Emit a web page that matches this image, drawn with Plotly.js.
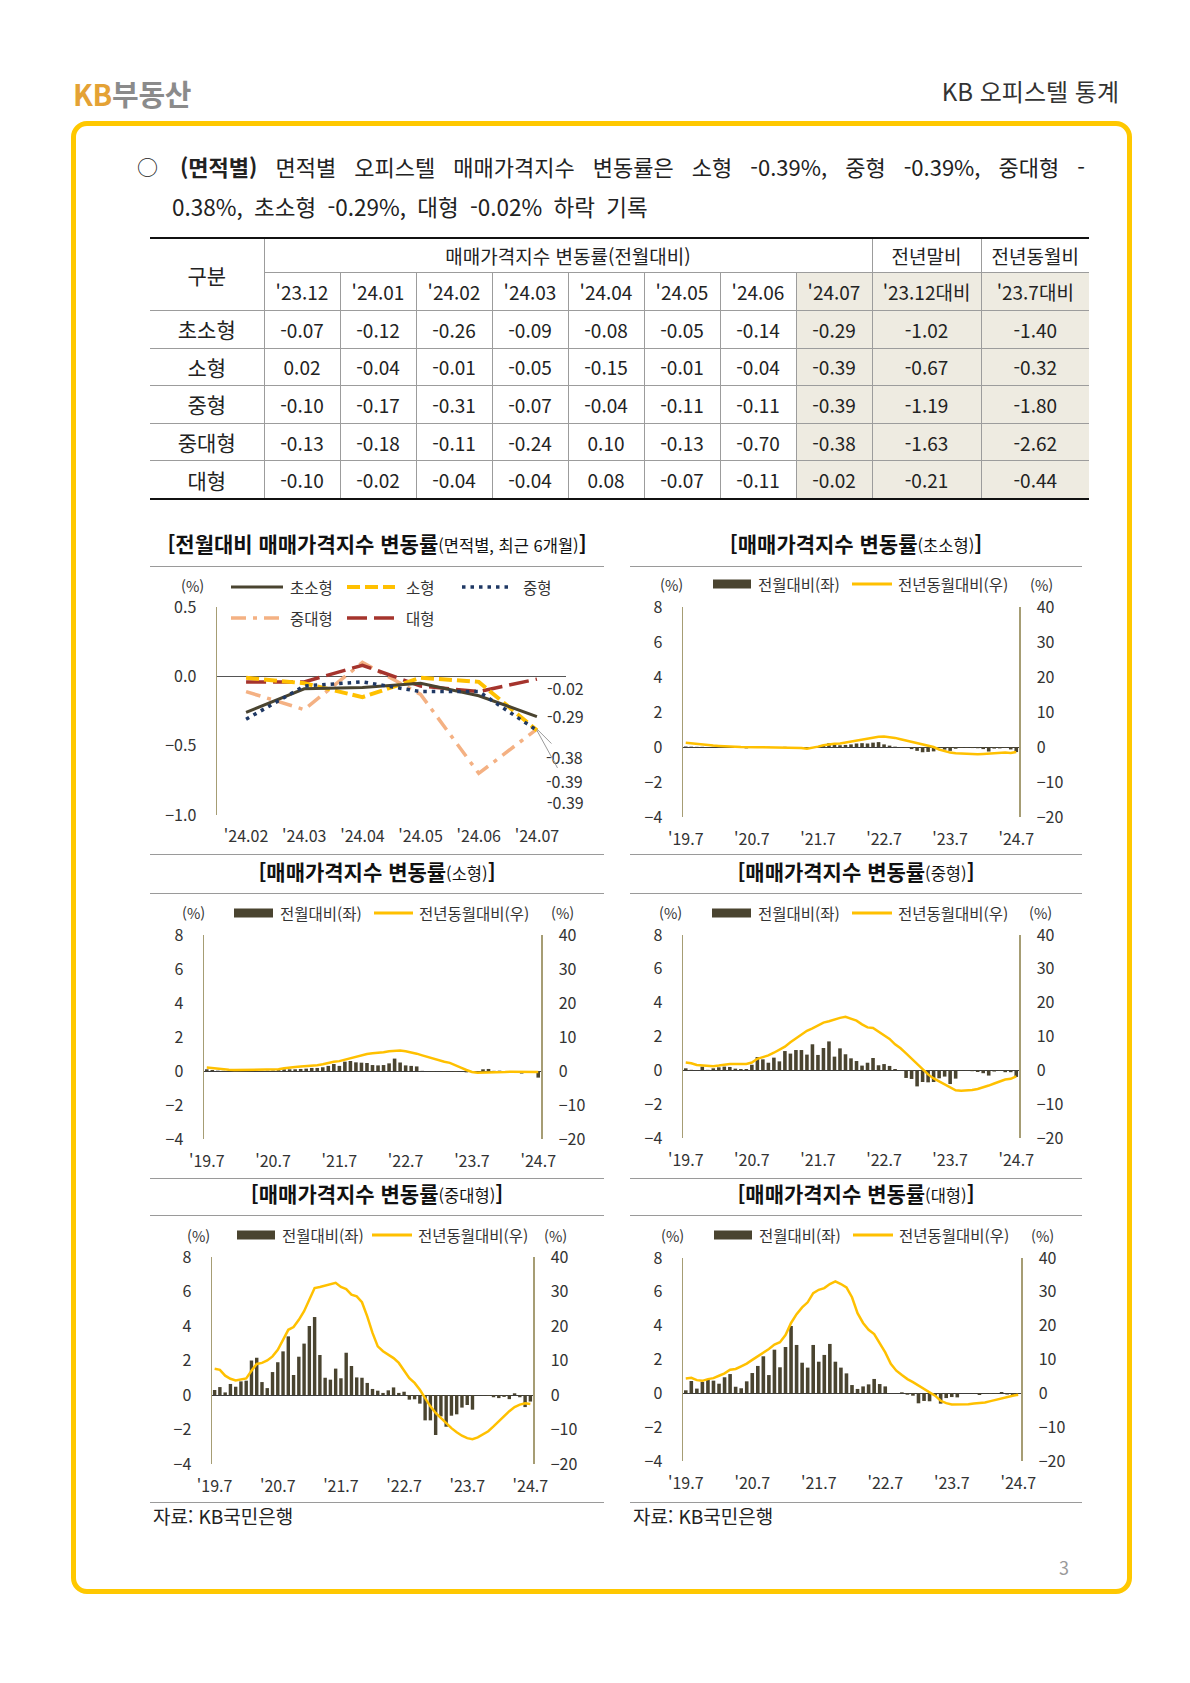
<!DOCTYPE html>
<html lang="ko">
<head>
<meta charset="utf-8">
<script src="https://cdn.plot.ly/plotly-3.0.1.min.js"></script>
<style>
html,body{margin:0;padding:0;background:#fff;}
#page{position:relative;width:1190px;height:1683px;overflow:hidden;background:#fff;font-family:"Noto Sans CJK KR","Noto Sans",sans-serif;color:#222;}
.abs{position:absolute;}
#logo{left:73px;top:73px;font-size:29px;font-weight:700;line-height:40px;letter-spacing:-0.3px;}
#logo .kb{color:#E4A235;}
#logo .re{color:#8B8B8B;}
#hdr{right:71px;top:73px;font-size:24px;line-height:36px;color:#333;}
#frame{left:71px;top:121px;width:1061px;height:1473px;border:5px solid #FFC800;border-radius:16px;box-sizing:border-box;}
#bul{left:137px;top:149px;font-size:21px;line-height:34px;}
#p1{left:180px;top:149px;width:905px;font-size:22px;line-height:34px;text-align:justify;text-align-last:justify;}
#p2{left:172px;top:189px;font-size:22.5px;line-height:34px;word-spacing:5px;}
#tbl{position:absolute;left:150px;top:237px;width:939px;border-collapse:collapse;table-layout:fixed;font-size:19px;color:#222;}
#tbl td{border:1px solid #9c9c9c;text-align:center;vertical-align:middle;padding:0;white-space:nowrap;}
#tbl tr.h1 td{border-top:2.5px solid #111;height:33px;}
#tbl tr.h2 td{height:37px;}
#tbl tr.d td{height:36.6px;}
#tbl tr.last td{border-bottom:2.5px solid #111;}
#tbl td.c0{border-left:none;font-size:21px;}
#tbl td.cl{border-right:none;}
#tbl td.sh{background:#EEEBE1;}
.rule{position:absolute;height:1px;background:#9a9a9a;}
.src{position:absolute;font-size:19px;line-height:26px;color:#222;}
#pg{left:1059px;top:1554px;font-size:18px;color:#9a9a9a;}
.chart{position:absolute;}
</style>
</head>
<body>
<div id="page">
  <div id="logo" class="abs"><span class="kb">KB</span><span class="re">부동산</span></div>
  <div id="hdr" class="abs">KB 오피스텔 통계</div>
  <div id="frame" class="abs"></div>
  <div id="bul" class="abs">○</div>
  <div id="p1" class="abs"><b>(면적별)</b> 면적별 오피스텔 매매가격지수 변동률은 소형 -0.39%, 중형 -0.39%, 중대형 -</div>
  <div id="p2" class="abs">0.38%, 초소형 -0.29%, 대형 -0.02% 하락 기록</div>
  <table id="tbl"></table>
  <div class="src" style="left:153px;top:1503px;">자료: KB국민은행</div>
  <div class="src" style="left:633px;top:1503px;">자료: KB국민은행</div>
  <div id="pg" class="abs">3</div>
</div>
<script>
// ================= DATA =================
const sizeNames = ['초소형', '소형', '중형', '중대형', '대형'];
const tableMonths = ["'23.12", "'24.01", "'24.02", "'24.03", "'24.04", "'24.05", "'24.06", "'24.07"];
const extraHeads = ["'23.12대비", "'23.7대비"];
// month-on-month change (%), '23.12 .. '24.07
const mom_xs = [-0.07, -0.12, -0.26, -0.09, -0.08, -0.05, -0.14, -0.29];
const mom_s  = [0.02, -0.04, -0.01, -0.05, -0.15, -0.01, -0.04, -0.39];
const mom_m  = [-0.10, -0.17, -0.31, -0.07, -0.04, -0.11, -0.11, -0.39];
const mom_ml = [-0.13, -0.18, -0.11, -0.24, 0.10, -0.13, -0.70, -0.38];
const mom_l  = [-0.10, -0.02, -0.04, -0.04, 0.08, -0.07, -0.11, -0.02];
const vsYearEnd  = [-1.02, -0.67, -1.19, -1.63, -0.21];
const vsLastYear = [-1.40, -0.32, -1.80, -2.62, -0.44];

// recent 6 months line chart labels
const recentLabels = ["'24.02", "'24.03", "'24.04", "'24.05", "'24.06", "'24.07"];

// long series axis ticks
const xTickVals = ['2019.07', '2020.07', '2021.07', '2022.07', '2023.07', '2024.07'];
const xTickText = ["'19.7", "'20.7", "'21.7", "'22.7", "'23.7", "'24.7"];

// month-on-month history '19.7 .. '23.11
const momHist_xs = [0.03,0.02,0.01,0.01,0.00,0.01,0.00,-0.01,-0.02,-0.02, -0.03,-0.08,-0.02,0.00,0.01,0.01,0.00,0.00,0.01,0.00, -0.01,-0.03,-0.06,-0.04,0.05,0.12,0.22,0.15,0.10,0.12, 0.15,0.20,0.22,0.20,0.25,0.28,0.15,0.08,0.02,-0.02, -0.05,-0.12,-0.22,-0.30,-0.28,-0.25,-0.05,-0.15,-0.22,-0.10, -0.05,-0.05,-0.06];
const momHist_s  = [0.10,0.06,0.02,0.01,0.01,0.01,0.01,0.01,0.01,0.01, 0.01,0.02,0.03,0.05,0.10,0.10,0.10,0.12,0.14,0.18, 0.18,0.22,0.30,0.41,0.30,0.55,0.59,0.51,0.49,0.47, 0.35,0.33,0.35,0.45,0.73,0.50,0.33,0.30,0.27,0.01, -0.01,-0.03,-0.01,-0.05,-0.02,-0.05,-0.01,-0.08,-0.05,-0.02, 0.10,0.12,0.01];
const momHist_m  = [0.12,0.03,0.02,0.22,0.03,0.12,0.18,0.22,0.20,0.10, 0.08,0.08,0.33,0.79,0.65,0.45,0.75,0.53,1.14,0.99, 1.20,1.20,0.93,1.54,0.91,1.32,1.71,0.81,1.30,0.95, 0.71,0.55,0.28,0.45,0.73,0.30,0.37,0.26,0.08,0.01, -0.45,-0.51,-0.95,-0.69,-0.71,-0.69,-0.47,-0.37,-0.81,-0.49, -0.02,-0.03,-0.05];
const momHist_ml = [0.29,0.46,0.15,0.64,0.48,0.79,0.83,2.00,2.16,0.75, 0.40,1.33,1.90,2.53,3.40,1.16,2.22,2.98,4.00,4.52, 2.32,1.00,0.89,1.53,0.97,2.45,1.68,1.02,1.00,0.70, 0.35,0.25,0.12,0.27,0.44,0.12,0.19,-0.27,-0.25,-0.50, -1.47,-1.47,-2.32,-1.24,-1.84,-1.20,-1.12,-0.73,-0.58,-0.85, -0.02,-0.03,-0.05];
const momHist_l  = [0.18,0.73,0.28,0.67,0.79,0.75,0.57,0.95,1.14,0.39, 0.30,0.71,1.20,1.62,2.19,1.08,2.58,1.54,2.74,3.98, 2.86,1.81,1.52,2.86,1.87,2.27,2.92,1.87,1.52,1.18, 0.49,0.26,0.41,0.53,0.85,0.55,0.41,0.01,0.01,0.06, -0.08,-0.14,-0.59,-0.45,-0.47,-0.14,-0.61,-0.28,-0.22,-0.24, 0.00,-0.01,0.02];

// year-on-year change (%) '19.7 .. '24.6; '24.7 from the table
const yoyHist_xs = [1.2,1.0,0.8,0.6,0.5,0.4,0.3,0.3,0.2,0.1, 0.0,-0.1,-0.1,-0.1,-0.1,-0.1,-0.1,-0.2,-0.2,-0.2, -0.2,-0.3,-0.5,-0.3,0.1,0.5,0.8,0.9,1.0,1.3, 1.6,1.9,2.1,2.4,2.7,2.9,3.0,2.9,2.6,2.2, 1.8,1.4,1.1,0.8,0.4,0.0,-0.7,-1.2,-1.6,-1.8, -1.9,-2.0,-2.2,-2.1,-2.0,-1.9,-1.7,-1.6,-1.6,-1.7];
const yoyHist_s  = [1.0,0.8,0.6,0.5,0.4,0.3,0.3,0.3,0.3,0.3, 0.3,0.3,0.3,0.5,0.8,1.1,1.2,1.3,1.4,1.5, 1.7,2.0,2.4,2.7,2.9,3.3,3.8,4.3,4.7,5.0, 5.2,5.3,5.5,5.8,6.0,6.0,5.8,5.5,5.1,4.6, 4.1,3.6,3.1,2.7,2.4,1.8,1.0,0.3,-0.3,-0.5, -0.5,-0.5,-0.5,-0.4,-0.3,-0.2,-0.2,-0.1,-0.1,-0.2];
const yoyHist_m  = [2.3,2.1,1.6,1.4,1.2,1.2,1.4,1.7,1.9,1.9, 1.9,1.9,2.3,3.4,3.9,4.4,5.2,6.0,7.0,8.3, 9.5,10.6,11.7,12.4,13.2,14.1,14.5,15.1,15.5,15.8, 15.3,14.7,13.6,12.7,12.5,11.4,10.4,9.3,7.7,6.5, 5.0,3.4,1.8,0.1,-1.2,-2.4,-3.3,-4.3,-5.2,-5.9, -6.0,-6.0,-5.8,-5.5,-5.1,-4.5,-3.9,-3.3,-2.7,-2.5];
const yoyHist_ml = [7.6,7.3,5.6,4.7,4.2,4.4,4.8,7.0,9.0,9.3, 10.0,11.2,13.1,16.0,18.9,19.7,21.8,24.3,27.6,31.0, 31.3,31.7,32.3,32.5,31.3,30.7,29.1,28.6,26.9,22.8, 18.0,14.1,12.7,11.7,10.7,9.3,6.9,4.9,3.5,1.5, -0.9,-3.3,-5.2,-6.7,-8.1,-9.6,-10.8,-11.8,-12.5,-12.8, -12.3,-11.5,-10.5,-9.1,-7.6,-6.2,-4.7,-3.5,-2.8,-2.4];
const yoyHist_l  = [4.4,4.6,3.9,3.7,4.2,4.5,5.2,5.9,7.0,7.2, 8.0,8.8,9.9,10.9,12.1,13.1,14.4,15.1,17.2,20.8, 23.4,25.4,26.9,29.6,30.6,31.1,32.3,33.1,32.3,31.3, 28.4,23.7,20.8,18.8,17.5,14.6,12.1,8.7,6.7,5.4, 4.2,3.3,2.3,1.3,0.3,-0.7,-2.2,-2.9,-3.3,-3.3, -3.3,-3.2,-3.0,-2.9,-2.7,-2.3,-1.9,-1.5,-1.0,-0.7];

// ================= DERIVED =================
const momAll = [mom_xs, mom_s, mom_m, mom_ml, mom_l];
const momHistAll = [momHist_xs, momHist_s, momHist_m, momHist_ml, momHist_l];
const yoyHistAll = [yoyHist_xs, yoyHist_s, yoyHist_m, yoyHist_ml, yoyHist_l];
const months = [];
for (let i = 0; i < 61; i++) {
  const m = 6 + i;
  months.push((2019 + Math.floor(m / 12)) + '.' + String(m % 12 + 1).padStart(2, '0'));
}
const fmt = v => v.toFixed(2);

// ================= TABLE =================
(function buildTable(){
  let h = '<colgroup><col style="width:114px">';
  for (let i = 0; i < 8; i++) h += '<col style="width:76px">';
  h += '<col style="width:109px"><col style="width:108px"></colgroup>';
  h += '<tr class="h1"><td class="c0" rowspan="2" style="border-bottom:1px solid #9c9c9c">구분</td>' +
       '<td colspan="8">매매가격지수 변동률(전월대비)</td><td>전년말비</td><td class="cl">전년동월비</td></tr>';
  h += '<tr class="h2">';
  tableMonths.forEach((m, i) => { h += '<td' + (i === 7 ? ' class="sh"' : '') + '>' + m + '</td>'; });
  h += '<td class="sh">' + extraHeads[0] + '</td><td class="sh cl">' + extraHeads[1] + '</td></tr>';
  sizeNames.forEach((n, r) => {
    h += '<tr class="d' + (r === sizeNames.length - 1 ? ' last' : '') + '"><td class="c0">' + n + '</td>';
    momAll[r].forEach((v, i) => { h += '<td' + (i === 7 ? ' class="sh"' : '') + '>' + fmt(v) + '</td>'; });
    h += '<td class="sh">' + fmt(vsYearEnd[r]) + '</td><td class="sh cl">' + fmt(vsLastYear[r]) + '</td></tr>';
  });
  document.getElementById('tbl').innerHTML = h;
})();

// ================= RULES =================
const page = document.getElementById('page');
[[150,604,566],[630,1082,566],[150,604,854],[630,1082,854],[150,604,893],[630,1082,893],
 [150,604,1178],[630,1082,1178],[150,604,1215],[630,1082,1215],[150,604,1502],[630,1082,1502]].forEach(r => {
  const d = document.createElement('div'); d.className = 'rule';
  d.style.left = r[0] + 'px'; d.style.width = (r[1] - r[0]) + 'px'; d.style.top = r[2] + 'px';
  page.appendChild(d);
});

// ================= CHARTS =================
const FONT = '"Noto Sans CJK KR", "Noto Sans", sans-serif';
const BAR_COLOR = '#4A4430';
const YOY_COLOR = '#FFC000';
const AXIS_COLOR = '#A69D74';
const TXT = '#333333';
const CFG = {staticPlot: true, displayModeBar: false};
const TITLE_SIZE = 21, SUB_SIZE = 16.5, LEG_SIZE = 15.5, PCT_SIZE = 14.5;
const PAD = 14; // extra room above each panel so the title is not clipped

function grow(g){
  // shift the div up by PAD and move all in-div y coordinates down by PAD
  g.top -= PAD; g.H += PAD; g.t += PAD; g.titleY += PAD;
  if (g.legY !== undefined) g.legY += PAD;
  return g;
}
function makeDiv(g){
  const d = document.createElement('div'); d.className = 'chart';
  d.style.left = g.left + 'px'; d.style.top = g.top + 'px';
  d.style.width = g.W + 'px'; d.style.height = g.H + 'px';
  page.appendChild(d); return d;
}
function conv(g){
  return {x: px => (px - g.l) / (g.W - g.l - g.r), y: py => 1 - (py - g.t) / (g.H - g.t - g.b)};
}
function titleText(main, sub){
  return '<b>[' + main + '</b><span style="font-size:' + SUB_SIZE + 'px">(' + sub + ')</span><b>]</b>';
}
function pctAnn(P, px, py){
  return {xref:'paper', yref:'paper', x:P.x(px), y:P.y(py), text:'(%)', showarrow:false,
          xanchor:'center', yanchor:'middle', borderpad:0, font:{size:PCT_SIZE, color:TXT}};
}

// ---- chart 1 : recent 6 months lines ----
(function(){
  const g = grow({left:150, top:530, W:454, H:326, l:67, r:38, t:77, b:41, titleY:15});
  const P = conv(g);
  const styles = [
    {color:'#4A4430', width:3, dash:'solid'},
    {color:'#FFC000', width:4, dash:'13px,5px'},
    {color:'#1F3864', width:3.5, dash:'3.5px,5px'},
    {color:'#F4B183', width:3.5, dash:'15px,7px,4px,7px'},
    {color:'#A5342D', width:3.5, dash:'20px,7px'}
  ];
  const order = [3, 4, 1, 0, 2];
  const traces = order.map(k => ({
    type:'scatter', mode:'lines', x: recentLabels, y: momAll[k].slice(2),
    name: sizeNames[k], line: styles[k], hoverinfo:'skip'
  }));
  const leg = [{sw:[81,133], tx:138, y:57}, {sw:[197,245], tx:254, y:57}, {sw:[312,362], tx:371, y:57},
               {sw:[81,133], tx:138, y:88}, {sw:[197,245], tx:254, y:88}];
  const shapes = [], ann = [];
  leg.forEach((L, k) => {
    const yy = L.y + PAD;
    shapes.push({type:'line', xref:'paper', yref:'paper', x0:P.x(L.sw[0]), x1:P.x(L.sw[1]), y0:P.y(yy), y1:P.y(yy),
                 line:{color:styles[k].color, width:styles[k].width, dash:styles[k].dash}});
    ann.push({xref:'paper', yref:'paper', x:P.x(L.tx), y:P.y(yy), text:sizeNames[k], showarrow:false,
              xanchor:'left', yanchor:'middle', font:{size:LEG_SIZE, color:TXT}});
  });
  ann.push(pctAnn(P, 42, 56 + PAD));
  // end-value labels
  const last = recentLabels[recentLabels.length - 1];
  const endLab = [
    {k:4, yshift:-9}, {k:0, yshift:1}, {k:3, ax:28, ay:28}, {k:1, ax:28, ay:51}, {k:2, yshift:-72}
  ];
  endLab.forEach(e => {
    const v = momAll[e.k][7];
    if (e.ax !== undefined) {
      ann.push({x:last, y:v, xref:'x', yref:'y', text:fmt(v), showarrow:true, arrowhead:0, arrowwidth:1,
                arrowcolor:'#9a9a9a', ax:e.ax, ay:e.ay, axref:'pixel', ayref:'pixel', font:{size:16, color:TXT}});
    } else {
      ann.push({x:last, y:v, xref:'x', yref:'y', text:fmt(v), showarrow:false, xanchor:'left', yanchor:'middle',
                xshift:8, yshift:e.yshift, font:{size:16, color:TXT}});
    }
  });
  const layout = {
    width:g.W, height:g.H, margin:{l:g.l, r:g.r, t:g.t, b:g.b, pad:0},
    paper_bgcolor:'rgba(0,0,0,0)', plot_bgcolor:'rgba(0,0,0,0)',
    font:{family:FONT, size:16, color:TXT}, showlegend:false,
    title:{text:titleText('전월대비 매매가격지수 변동률', '면적별, 최근 6개월'), x:0.5, xref:'container', xanchor:'center',
           y:1 - g.titleY / g.H, yref:'container', yanchor:'middle', font:{size:TITLE_SIZE, color:'#111'}},
    xaxis:{type:'category', range:[-0.5, 5.5], showgrid:false, zeroline:false, showline:false, ticks:'', ticklabelstandoff:10},
    yaxis:{range:[-1.0, 0.5], tickvals:[-1.0, -0.5, 0, 0.5], tickformat:'.1f', showgrid:false,
           zeroline:true, zerolinecolor:'#555', zerolinewidth:1, showline:true, linecolor:AXIS_COLOR, linewidth:1.5,
           ticks:'', ticklabelstandoff:16},
    shapes:shapes, annotations:ann
  };
  Plotly.newPlot(makeDiv(g), traces, layout, CFG);
})();

// ---- bar + line charts ----
function barChart(g0, k){
  const g = grow(g0);
  const P = conv(g);
  const bars = momHistAll[k].concat(momAll[k]);
  const yoy = yoyHistAll[k].concat([vsLastYear[k]]);
  const names = ['전월대비(좌)', '전년동월대비(우)'];
  const traces = [
    {type:'bar', x:months, y:bars, yaxis:'y', name:names[0], marker:{color:BAR_COLOR, line:{width:0}}, hoverinfo:'skip'},
    {type:'scatter', mode:'lines', x:months, y:yoy, yaxis:'y2', name:names[1], line:{color:YOY_COLOR, width:2.5}, hoverinfo:'skip'}
  ];
  const shapes = [
    {type:'rect', xref:'paper', yref:'paper', x0:P.x(g.sw1[0]), x1:P.x(g.sw1[1]), y0:P.y(g.legY + 4.5), y1:P.y(g.legY - 4.5),
     fillcolor:BAR_COLOR, line:{width:0}},
    {type:'line', xref:'paper', yref:'paper', x0:P.x(g.sw2[0]), x1:P.x(g.sw2[1]), y0:P.y(g.legY), y1:P.y(g.legY),
     line:{color:YOY_COLOR, width:3}}
  ];
  const pctY = g.t - 22; // sits just above the top tick labels
  const ann = [
    {xref:'paper', yref:'paper', x:P.x(g.tx1), y:P.y(g.legY), text:names[0], showarrow:false, xanchor:'left', yanchor:'middle', font:{size:LEG_SIZE, color:TXT}},
    {xref:'paper', yref:'paper', x:P.x(g.tx2), y:P.y(g.legY), text:names[1], showarrow:false, xanchor:'left', yanchor:'middle', font:{size:LEG_SIZE, color:TXT}},
    pctAnn(P, g.pctLx, pctY),
    pctAnn(P, g.pctRx, pctY)
  ];
  const layout = {
    width:g.W, height:g.H, margin:{l:g.l, r:g.r, t:g.t, b:g.b, pad:0},
    paper_bgcolor:'rgba(0,0,0,0)', plot_bgcolor:'rgba(0,0,0,0)',
    font:{family:FONT, size:16, color:TXT}, showlegend:false, bargap:0.35,
    title:{text:titleText('매매가격지수 변동률', sizeNames[k]), x:0.5, xref:'container', xanchor:'center',
           y:1 - g.titleY / g.H, yref:'container', yanchor:'middle', font:{size:TITLE_SIZE, color:'#111'}},
    xaxis:{type:'category', range:[-0.5, 60.5], tickvals:xTickVals, ticktext:xTickText, showgrid:false,
           zeroline:false, showline:false, ticks:'', ticklabelstandoff:11},
    yaxis:{range:[-4, 8], tickvals:[-4, -2, 0, 2, 4, 6, 8], showgrid:false, zeroline:true, zerolinecolor:'#3C3C3C',
           zerolinewidth:1, showline:true, linecolor:AXIS_COLOR, linewidth:1.5, ticks:'', ticklabelstandoff:16},
    yaxis2:{overlaying:'y', side:'right', range:[-20, 40], tickvals:[-20, -10, 0, 10, 20, 30, 40], showgrid:false,
            zeroline:false, showline:true, linecolor:AXIS_COLOR, linewidth:1.5, ticks:'', ticklabelstandoff:13},
    shapes:shapes, annotations:ann
  };
  Plotly.newPlot(makeDiv(g), traces, layout, CFG);
}

barChart({left:630, top:530, W:452, H:326, l:53, r:63, t:77, b:39, titleY:15, legY:54,
          sw1:[83,121], tx1:126, sw2:[222,262], tx2:266, pctLx:41, pctRx:411}, 0);
barChart({left:150, top:856, W:454, H:324, l:54, r:63, t:79, b:41, titleY:17, legY:57,
          sw1:[84,123], tx1:128, sw2:[224,263], tx2:267, pctLx:43, pctRx:412}, 1);
barChart({left:630, top:856, W:452, H:324, l:53, r:63, t:79, b:42, titleY:17, legY:57,
          sw1:[82,121], tx1:126, sw2:[222,262], tx2:266, pctLx:40, pctRx:410}, 2);
barChart({left:150, top:1180, W:454, H:324, l:62, r:71, t:77, b:40, titleY:15, legY:55,
          sw1:[87,125], tx1:130, sw2:[222,262], tx2:266, pctLx:48, pctRx:406}, 3);
barChart({left:630, top:1180, W:452, H:324, l:53, r:61, t:78, b:43, titleY:15, legY:55,
          sw1:[84,122], tx1:127, sw2:[223,263], tx2:267, pctLx:42, pctRx:412}, 4);
</script>
</body>
</html>
